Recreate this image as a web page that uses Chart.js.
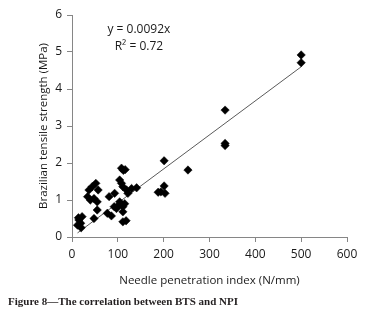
<!DOCTYPE html>
<html>
<head>
<meta charset="utf-8">
<script src="https://cdn.jsdelivr.net/npm/chart.js@4.4.1/dist/chart.umd.min.js"></script>
<style>
html,body{margin:0;padding:0;background:#fff;}
#wrap{position:relative;width:377px;height:322px;}
#caption{position:absolute;left:8px;top:295px;font-family:"Liberation Serif","DejaVu Serif",serif;font-weight:bold;font-size:11px;color:#231f20;white-space:nowrap;}
</style>
</head>
<body>
<div id="wrap">
<canvas id="c" width="377" height="322"></canvas>
<div id="caption">Figure 8—The correlation between BTS and NPI</div>
</div>
<script>
// Needle penetration index (N/mm)
const npi = [12, 15, 19, 22, 20, 14,
  34, 37, 44, 52, 57, 48, 55, 55, 48, 40,
  77, 81, 86, 93, 92, 97, 104, 104, 108, 108, 112, 116, 111, 119, 122, 130, 141, 111, 111, 111, 118, 115, 101,
  188, 194, 201, 203, 201, 253, 334, 334, 334, 500, 500];
// Brazilian tensile strength (MPa)
const bts = [0.32, 0.46, 0.37, 0.55, 0.25, 0.52,
  1.09, 1.27, 1.36, 1.45, 1.27, 1.04, 0.95, 0.73, 0.50, 1.00,
  0.64, 1.09, 0.57, 1.18, 0.82, 0.77, 0.95, 1.54, 1.45, 1.86, 1.80, 1.82, 1.36, 1.27, 1.18, 1.31, 1.33, 0.82, 0.68, 0.41, 0.44, 0.90, 0.85,
  1.21, 1.22, 1.38, 1.18, 2.06, 1.81, 3.43, 2.53, 2.47, 4.92, 4.71];
// Linear trendline y = 0.0092x (endpoints)
const trendX = [12, 500];
const trendY = [0.11, 4.6];
const xTicks = [0, 100, 200, 300, 400, 500, 600];
const yTicks = [0, 1, 2, 3, 4, 5, 6];
const eqLines = ["y = 0.0092x", "R² = 0.72"];

const pts = npi.map((x, i) => ({x: x, y: bts[i]}));
const trend = trendX.map((x, i) => ({x: x, y: trendY[i]}));

const tickFont = {family: "'Open Sans', 'Liberation Sans', sans-serif", size: 12};
const axisColor = '#868686';

const eqPlugin = {
  id: 'eq',
  afterDatasetsDraw(chart) {
    const ctx = chart.ctx;
    const xs = chart.scales.x, ys = chart.scales.y;
    ctx.save();
    ctx.fillStyle = '#1a1a1a';
    ctx.font = "12px 'Open Sans', sans-serif";
    ctx.textAlign = 'center';
    ctx.textBaseline = 'middle';
    const cx = xs.getPixelForValue(146);
    ctx.fillText(eqLines[0], cx, ys.getPixelForValue(5.6));
    ctx.fillText(eqLines[1], cx, ys.getPixelForValue(5.16));
    ctx.restore();
  }
};

new Chart(document.getElementById('c'), {
  type: 'scatter',
  data: {
    datasets: [
      {
        label: 'BTS',
        data: pts,
        pointStyle: 'rectRot',
        pointRadius: 4.2,
        pointHoverRadius: 4.2,
        backgroundColor: '#000',
        borderColor: '#000',
        borderWidth: 0.5,
        order: 1
      },
      {
        label: 'Trend',
        type: 'line',
        data: trend,
        showLine: true,
        borderColor: '#5a5a5a',
        borderWidth: 1,
        pointRadius: 0,
        fill: false,
        order: 2
      }
    ]
  },
  options: {
    responsive: false,
    animation: false,
    events: [],
    layout: {padding: {left: 33, right: 30, top: 15, bottom: 31}},
    plugins: {legend: {display: false}, tooltip: {enabled: false}},
    scales: {
      x: {
        type: 'linear',
        min: 0, max: 600,
        afterBuildTicks(s) { s.ticks = xTicks.map(v => ({value: v})); },
        afterFit(s) { s.height = 54; },
        border: {color: axisColor, width: 1},
        grid: {display: true, drawOnChartArea: false, drawTicks: true, tickLength: 5, color: axisColor},
        ticks: {color: '#1a1a1a', font: tickFont, padding: 5, maxRotation: 0},
        title: {display: true, text: 'Needle penetration index (N/mm)', color: '#1a1a1a',
          font: {family: "'Open Sans', sans-serif", size: 11.5}, padding: {top: 4, bottom: 3}}
      },
      y: {
        type: 'linear',
        min: 0, max: 6,
        afterBuildTicks(s) { s.ticks = yTicks.map(v => ({value: v})); },
        afterFit(s) { s.width = 39; },
        border: {color: axisColor, width: 1},
        grid: {display: true, drawOnChartArea: false, drawTicks: true, tickLength: 5, color: axisColor},
        ticks: {color: '#1a1a1a', font: tickFont, padding: 5},
        title: {display: true, text: 'Brazilian tensile strength (MPa)', color: '#1a1a1a',
          font: {family: "'Open Sans', sans-serif", size: 11.5}, padding: {top: 4, bottom: 2}}
      }
    }
  },
  plugins: [eqPlugin]
});
</script>
</body>
</html>
